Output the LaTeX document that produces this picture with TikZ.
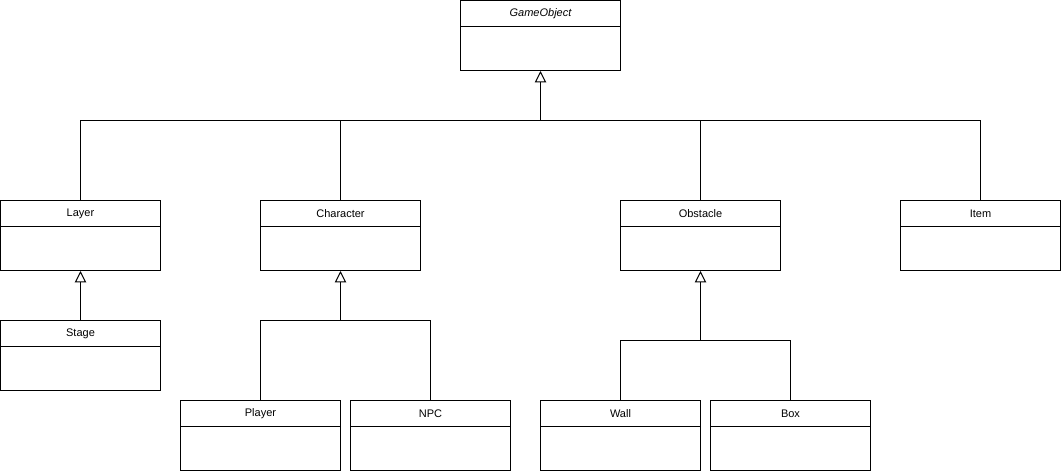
\documentclass[tikz,border=0pt]{standalone}
\usepackage{fontspec}
\setmainfont{Liberation Sans}
\usetikzlibrary{arrows.meta}
\tikzset{
  cls/.style={draw, line width=0.75pt, minimum width=120pt, minimum height=52.5pt, inner sep=0pt, fill=white},
  clstext/.style={font=\fontsize{8.25pt}{10pt}\selectfont, inner sep=0pt, anchor=center},
  conn/.style={line width=0.75pt},
  inh/.style={line width=0.75pt, -{Triangle[open, width=8.5pt, length=8.5pt, line width=0.75pt]}},
}
\newcommand\umlclass[4]{%
  \node[cls] (#1) at (#2,#3) {};
  \node[clstext] (#1-t) at ([yshift=-10.5pt]#1.north) {#4};
  \draw[line width=0.75pt] ([yshift=-19.5pt]#1.north west) -- ([yshift=-19.5pt]#1.north east);
}
\begin{document}
\begin{tikzpicture}[x=0.75pt, y=-0.75pt]
\useasboundingbox (0,0) rectangle (1061,471);
\umlclass{go}{540.5}{35.5}{\itshape GameObject}
\umlclass{layer}{80.5}{235.5}{Layer}
\umlclass{char}{340.5}{235.5}{Character}
\umlclass{obst}{700.5}{235.5}{Obstacle}
\umlclass{item}{980.5}{235.5}{Item}
\umlclass{stage}{80.5}{355.5}{Stage}
\umlclass{player}{260.5}{435.5}{Player}
\umlclass{npc}{430.5}{435.5}{NPC}
\umlclass{wall}{620.5}{435.5}{Wall}
\umlclass{box}{790.5}{435.5}{Box}
% GameObject hierarchy
\coordinate (j0) at (540.5,120.5);
\draw[inh] (j0) -- (go.south);
\draw[conn] (layer.north) -- (layer.north |- j0) -- (item.north |- j0) -- (item.north);
\draw[conn] (char.north) -- (char.north |- j0);
\draw[conn] (obst.north) -- (obst.north |- j0);
% Layer -> Stage
\draw[inh] (stage.north) -- (layer.south);
% Character hierarchy
\coordinate (j1) at (340.5,320.5);
\draw[inh] (j1) -- (char.south);
\draw[conn] (player.north) -- (player.north |- j1) -- (npc.north |- j1) -- (npc.north);
% Obstacle hierarchy
\coordinate (j2) at (700.5,340.5);
\draw[inh] (j2) -- (obst.south);
\draw[conn] (wall.north) -- (wall.north |- j2) -- (box.north |- j2) -- (box.north);
\end{tikzpicture}
\end{document}
